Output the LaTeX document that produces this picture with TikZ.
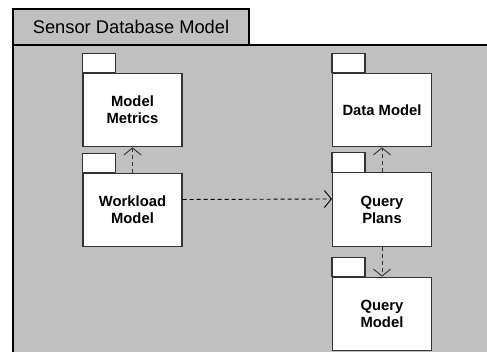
\documentclass[tikz,border=0pt]{standalone}
\usepackage{fontspec}
\setmainfont{Liberation Sans}
\usetikzlibrary{arrows.meta}
\definecolor{bggray}{HTML}{C0C0C0}
\definecolor{pkgline}{HTML}{333333}
\tikzset{
  pkg/.style={draw=pkgline, line width=1.1pt, fill=white, minimum width=99pt, minimum height=73.5pt,
    inner sep=0pt, align=center, font=\fontsize{14.8}{17}\selectfont\bfseries},
  pkgtab/.style={draw=pkgline, line width=1.1pt, fill=white},
  dep/.style={draw=pkgline, line width=0.9pt, dash pattern=on 4pt off 3pt,
    -{Straight Barb[length=7pt,width=17pt,line width=0.9pt]}},
}
\begin{document}
\begin{tikzpicture}[x=1pt,y=-1pt]
\useasboundingbox (0,0) rectangle (487,352);
\clip (0,0) rectangle (487,352);
\fill[white] (0,0) rectangle (487,352);
% outer package frame
\draw[line width=1.5pt, fill=bggray] (13,45) rectangle (500,370);
\node[draw, line width=1.5pt, fill=bggray, minimum width=236pt, minimum height=36pt, inner sep=0pt,
  font=\fontsize{18.3}{20}\selectfont] (title) at (131,27) {Sensor Database Model};
% packages
\node[pkg] (mm) at (132.5,110) {Model\\Metrics};
\node[pkg] (wm) at (132.5,210) {Workload\\Model};
\node[pkg] (dm) at (382,110) {Data Model};
\node[pkg] (qp) at (382,209.5) {Query\\Plans};
\node[pkg] (qm) at (382,314) {Query\\Model};
\foreach \n in {mm,wm,dm,qp,qm}{
  \draw[pkgtab] (\n.north west) rectangle ++(33,-19.5);
}
% dependencies
\draw[dep] (wm.north) -- (mm.south);
\draw[dep] (qp.north) -- (dm.south);
\draw[dep] (qp.south) -- (qm.north);
\draw[dep, draw=black] ([yshift=10.5pt]wm.east) -- ([yshift=10.5pt]qp.west);
\end{tikzpicture}
\end{document}
